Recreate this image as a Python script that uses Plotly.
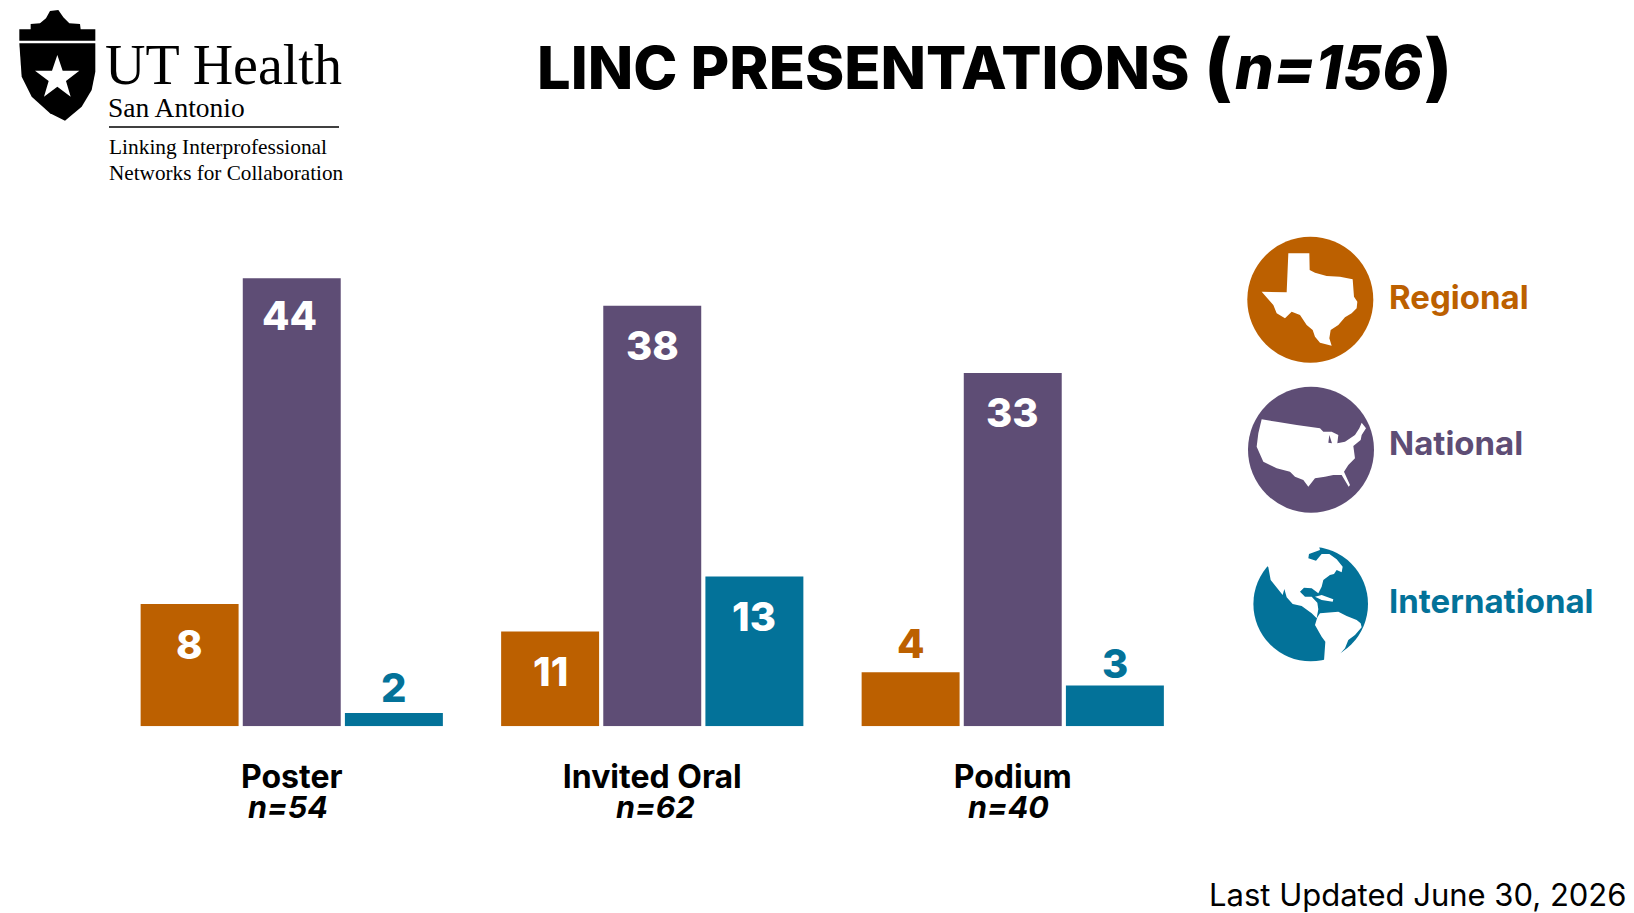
import plotly.graph_objects as go

W, H = 1634, 913

categories = ["Poster", "Invited Oral", "Podium"]
group_sizes = ["n=54", "n=62", "n=40"]

# bar lengths as drawn in the picture, they don't follow the printed numbers exactly
regional_heights = [12.0, 9.3, 5.3]
national_heights = [44.0, 41.3, 34.7]
international_heights = [1.3, 14.7, 4.0]

# numbers printed on the bars
regional_labels = ["8", "11", "4"]
national_labels = ["44", "38", "33"]
international_labels = ["2", "13", "3"]

ORANGE = "#BC6000"
PURPLE = "#5E4D75"
TEAL = "#037299"
FONT = "Inter"

# how far each number sits from the top of its bar
label_nudge = {"44": -37, "2": 26, "4": 29, "3": 22}


def px(x):
    return x / W


def py(y):
    return 1 - y / H


def poly(points, x0, y0, color, scale=1 / 3):
    parts = []
    for i, (x, y) in enumerate(points):
        cmd = "M" if i == 0 else "L"
        parts.append(f"{cmd} {px(x0 + x * scale):.5f} {py(y0 + y * scale):.5f}")
    return dict(type="path", path=" ".join(parts) + " Z", xref="paper", yref="paper",
                fillcolor=color, line=dict(width=0), layer="above")


def circle(cx, cy, r, color):
    return dict(type="circle", xref="paper", yref="paper", x0=px(cx - r), x1=px(cx + r),
                y0=py(cy + r), y1=py(cy - r), fillcolor=color, line=dict(width=0), layer="above")


def text(x, y, s, size, color="black", weight=400, anchor="left", family=FONT, style="normal"):
    return dict(x=px(x), y=py(y), xref="paper", yref="paper", text=s, showarrow=False,
                xanchor=anchor, yanchor="middle",
                font=dict(family=family, size=size, color=color, weight=weight, style=style))


texas = [(145, 70), (208, 70), (209, 120), (225, 128), (260, 138), (300, 140), (338, 148),
         (342, 200), (352, 215), (350, 235), (335, 250), (315, 262), (295, 285), (272, 300),
         (268, 325), (275, 347), (240, 338), (225, 320), (218, 300), (200, 285), (180, 255),
         (155, 245), (135, 265), (110, 250), (100, 225), (65, 185), (140, 187)]
usa = [(65, 118), (110, 125), (170, 135), (240, 145), (250, 155), (275, 155), (295, 165),
       (292, 190), (315, 185), (345, 165), (358, 145), (365, 128), (378, 145), (365, 165),
       (362, 180), (340, 198), (345, 235), (325, 255), (312, 275), (330, 315), (326, 320),
       (305, 285), (280, 285), (255, 290), (225, 295), (205, 320), (190, 300), (165, 290),
       (150, 275), (110, 265), (70, 245), (50, 200), (55, 160)]
lake = [(268, 165), (276, 190), (265, 188)]
north_america = [(30, 0), (85, 82), (92, 120), (128, 165), (133, 147), (140, 172), (158, 192),
                 (185, 198), (215, 220), (230, 235), (235, 208), (232, 188), (215, 170),
                 (195, 170), (180, 155), (192, 143), (215, 145), (235, 160), (245, 140),
                 (250, 120), (270, 105), (282, 102), (290, 90), (305, 97), (308, 80),
                 (290, 58), (268, 42), (245, 42), (228, 62), (205, 55), (207, 42), (240, 30),
                 (235, 10)]
south_america = [(232, 232), (225, 255), (245, 290), (256, 305), (252, 362), (255, 380),
                 (300, 380), (297, 345), (315, 325), (325, 300), (345, 285), (365, 262),
                 (362, 250), (350, 240), (320, 228), (295, 215), (240, 220)]
cuba = [(225, 170), (245, 165), (280, 178), (278, 185), (245, 180)]
shield_top = [(28, 122), (28, 88), (62, 88), (62, 72), (90, 70), (108, 55), (120, 33), (145, 30),
              (160, 52), (178, 70), (210, 72), (212, 88), (256, 88), (256, 122)]
shield = [(28, 130), (256, 130), (256, 215), (245, 270), (215, 320), (165, 362), (120, 340),
          (65, 290), (35, 230)]
star = [(142, 165), (158, 212), (208, 212), (168, 243), (182, 290), (142, 260), (102, 290),
        (116, 243), (75, 212), (126, 212)]

fig = go.Figure()
for name, heights, color in [("Regional", regional_heights, ORANGE),
                             ("National", national_heights, PURPLE),
                             ("International", international_heights, TEAL)]:
    fig.add_trace(go.Bar(x=categories, y=heights, name=name, marker=dict(color=color, line_width=0),
                         hoverinfo="skip"))

annotations = []
series = [(regional_heights, regional_labels, ORANGE, -102.1),
          (national_heights, national_labels, PURPLE, 0),
          (international_heights, international_labels, TEAL, 102.1)]
for heights, labels, color, xshift in series:
    for cat, h, lab in zip(categories, heights, labels):
        inside = h > 8  # short bars carry the number above them
        annotations.append(dict(x=cat, y=h, xref="x", yref="y", text=lab, showarrow=False,
                                xshift=xshift - 2 if lab == "44" else xshift,
                                yshift=label_nudge.get(lab, -40),
                                xanchor="center", yanchor="middle",
                                font=dict(family=FONT, size=40, weight=800,
                                          color="white" if inside else color)))

for cat, n, shift in zip(categories, group_sizes, [-4, 3, -4]):
    annotations.append(dict(x=cat, y=0, xref="x", yref="y", text=n, showarrow=False,
                            xshift=shift, yshift=-80, xanchor="center", yanchor="middle",
                            font=dict(family=FONT, size=30.5, weight=700, style="italic", color="black")))

annotations += [
    text(535, 67, "LINC PRESENTATIONS", 59.5, weight=800),
    text(1202, 66, "(", 74, weight=800),
    text(1233, 67, "n=156", 61, weight=800, style="italic"),
    text(1454, 66, ")", 74, weight=800, anchor="right"),
    text(1387, 297, "Regional", 33, ORANGE, 700),
    text(1387, 443, "National", 33, PURPLE, 700),
    text(1387, 601, "International", 33, TEAL, 700),
    text(1629, 894, "Last Updated June 30, 2026", 31, anchor="right"),
    text(103, 65, "UT Health", 56, family="Liberation Serif"),
    text(106, 108, "San Antonio", 27.5, family="Liberation Serif"),
    text(107, 147, "Linking Interprofessional", 21.4, family="Liberation Serif"),
    text(107, 173, "Networks for Collaboration", 21.2, family="Liberation Serif"),
]

shapes = [
    circle(1310.3, 299.7, 63, ORANGE),
    poly(texas, 1240, 230, "white"),
    circle(1311, 449.7, 63, PURPLE),
    poly(usa, 1240, 380, "white"),
    poly(lake, 1240, 380, PURPLE),
    circle(1310.7, 604, 57.3, TEAL),
    poly(north_america, 1240, 540, "white"),
    poly(south_america, 1240, 540, "white"),
    poly(cuba, 1240, 540, "white"),
    poly(shield_top, 10, 0, "black"),
    poly(shield, 10, 0, "black"),
    poly(star, 10, 0, "white"),
    dict(type="line", xref="paper", yref="paper", x0=px(109), x1=px(339), y0=py(127), y1=py(127),
         line=dict(color="black", width=1.5)),
]

fig.update_layout(
    width=W, height=H,
    margin=dict(l=0, r=0, t=0, b=0),
    template="plotly_white",
    paper_bgcolor="white", plot_bgcolor="white",
    showlegend=False,
    barmode="group", bargap=0.15, bargroupgap=0.041,
    annotations=annotations, shapes=shapes,
    xaxis=dict(domain=[px(111.5), px(1193)], showgrid=False, zeroline=False, showline=False,
               ticks="outside", ticklen=22, tickcolor="rgba(0,0,0,0)",
               tickfont=dict(family=FONT, size=32, weight=700, color="black")),
    yaxis=dict(domain=[py(726.3), py(237.5)], range=[0, 48], visible=False),
)

fig.write_html("out.html", config=dict(displayModeBar=False),
               post_script="document.body.style.margin='0';")
